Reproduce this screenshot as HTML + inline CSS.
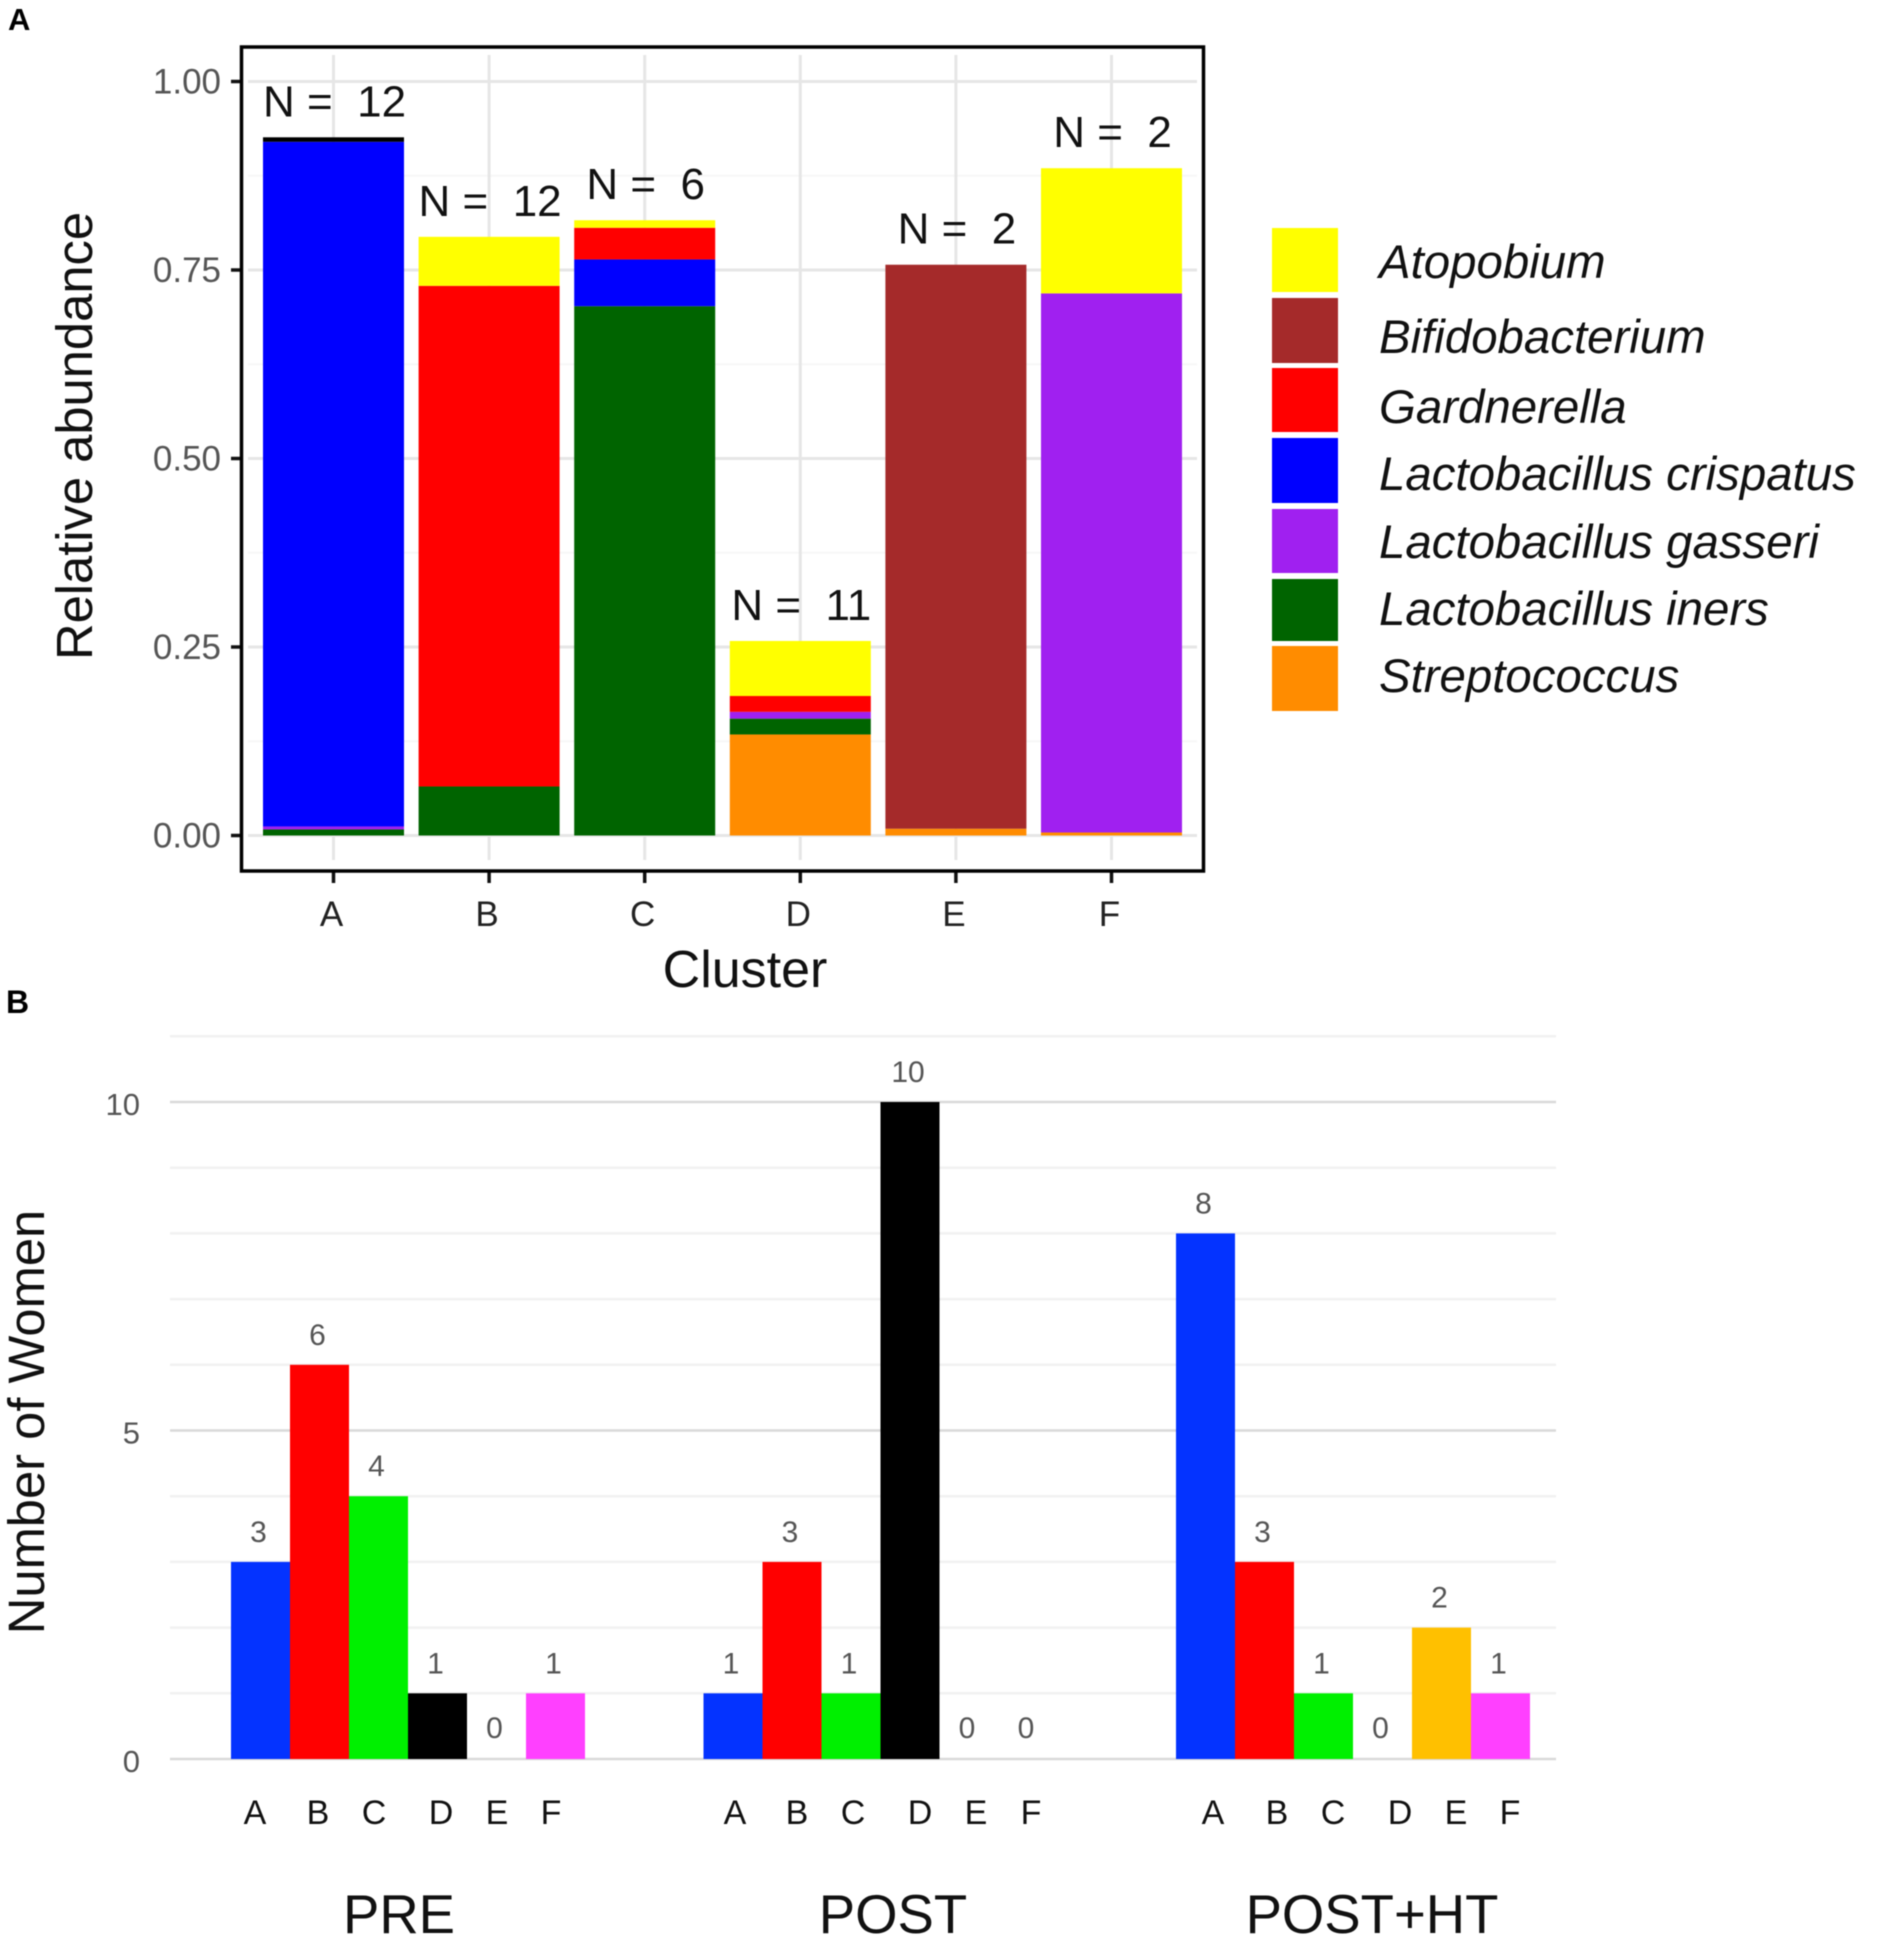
<!DOCTYPE html>
<html lang="en">
<head>
<meta charset="utf-8">
<title>Relative abundance by cluster and number of women per cluster</title>
<style>
html,body{margin:0;padding:0;background:#fff;width:1888px;height:1945px;overflow:hidden}
svg{display:block;filter:blur(0.6px)}
text{font-family:"Liberation Sans",Arial,sans-serif;white-space:pre}
</style>
</head>
<body>
<svg id="figure" xmlns="http://www.w3.org/2000/svg" width="1888" height="1945" viewBox="0 0 1888 1945">
  <rect width="1888" height="1945" fill="#fff"/>
  <text x="8" y="30" font-size="31" font-weight="bold">A</text>
  <text x="6" y="1013" font-size="32" font-weight="bold">B</text>

  <g id="panelA"></g>
  <rect x="241.5" y="47" width="962" height="824" fill="none" stroke="#000" stroke-width="3.5"/>
  <text transform="translate(92 436) rotate(-90)" text-anchor="middle" font-size="50.7" fill="#111">Relative abundance</text>
  <text x="745" y="987" text-anchor="middle" font-size="52" fill="#111">Cluster</text>

  <g>
    <rect x="1272" y="228" width="66" height="64" fill="#ffff00"/>
    <rect x="1272" y="298" width="66" height="65" fill="#a52a2a"/>
    <rect x="1272" y="368" width="66" height="64" fill="#ff0000"/>
    <rect x="1272" y="438" width="66" height="65" fill="#0000ff"/>
    <rect x="1272" y="509" width="66" height="64" fill="#a020f0"/>
    <rect x="1272" y="579" width="66" height="62" fill="#006400"/>
    <rect x="1272" y="646" width="66" height="65" fill="#ff8c00"/>
    <g font-size="47.4" font-style="italic" fill="#111">
      <text x="1379" y="278">Atopobium</text>
      <text x="1379" y="353">Bifidobacterium</text>
      <text x="1379" y="423">Gardnerella</text>
      <text x="1379" y="490">Lactobacillus crispatus</text>
      <text x="1379" y="558">Lactobacillus gasseri</text>
      <text x="1379" y="625">Lactobacillus iners</text>
      <text x="1379" y="692">Streptococcus</text>
    </g>
  </g>

  <g id="panelB"></g>
  <text transform="translate(44 1422) rotate(-90)" text-anchor="middle" font-size="50.7" fill="#111">Number of Women</text>

  <g font-size="34" fill="#111" text-anchor="middle">
    <text x="255" y="1824">A</text>
    <text x="318" y="1824">B</text>
    <text x="374" y="1824">C</text>
    <text x="441" y="1824">D</text>
    <text x="497" y="1824">E</text>
    <text x="551" y="1824">F</text>
    <text x="735" y="1824">A</text>
    <text x="797" y="1824">B</text>
    <text x="853" y="1824">C</text>
    <text x="920" y="1824">D</text>
    <text x="976" y="1824">E</text>
    <text x="1031" y="1824">F</text>
    <text x="1213" y="1824">A</text>
    <text x="1277" y="1824">B</text>
    <text x="1333" y="1824">C</text>
    <text x="1400" y="1824">D</text>
    <text x="1456" y="1824">E</text>
    <text x="1510" y="1824">F</text>
  </g>
  <g font-size="54.5" fill="#111" text-anchor="middle">
    <text x="399" y="1933">PRE</text>
    <text x="893" y="1933">POST</text>
    <text x="1372" y="1933">POST+HT</text>
  </g>
</svg>

<script>
// ---- Panel A data ----
const clusterNames = ['A', 'B', 'C', 'D', 'E', 'F'];
const clusterCounts = [12, 12, 6, 11, 2, 2];
const streptococcus = [0, 0, 0, 0.134, 0.009, 0.004];
const lactobacillusIners = [0.008, 0.065, 0.702, 0.021, 0, 0];
const lactobacillusGasseri = [0.004, 0, 0, 0.009, 0, 0.715];
const lactobacillusCrispatus = [0.908, 0, 0.062, 0, 0, 0];
const gardnerella = [0, 0.664, 0.042, 0.021, 0, 0];
const bifidobacterium = [0, 0, 0, 0, 0.748, 0];
const atopobium = [0, 0.065, 0.010, 0.073, 0, 0.166];
const unlabelled = [0.006, 0, 0, 0, 0, 0];
const abundanceTicks = [0, 0.25, 0.5, 0.75, 1];
const abundanceMinorTicks = [0.125, 0.375, 0.625, 0.875];

// ---- Panel B data ----
const groupNames = ['PRE', 'POST', 'POST+HT'];
const womenPre = [3, 6, 4, 1, 0, 1];
const womenPost = [1, 3, 1, 10, 0, 0];
const womenPostHt = [8, 3, 1, 0, 2, 1];
const womenTicks = [0, 5, 10];
const womenMinorTicks = [1, 2, 3, 4, 6, 7, 8, 9, 11];

const SVG_NS = 'http://www.w3.org/2000/svg';
function make(parent, tag, props, content) {
  const el = document.createElementNS(SVG_NS, tag);
  for (const k in props) el.setAttribute(k, props[k]);
  if (content !== undefined) el.textContent = content;
  parent.appendChild(el);
  return el;
}

// ---- Panel A axes and marks ----
const gA = document.getElementById('panelA');
const abundanceY = v => 835.5 - v * 754;
const clusterX = i => 333.5 + i * 155.6;
const stackBarWidth = 141;

abundanceMinorTicks.forEach(t => {
  const el = make(gA, 'line', {x1: 248, x2: 1197, y1: abundanceY(t), y2: abundanceY(t), stroke: '#f7f7f7', 'stroke-width': 2});
  
  
});
abundanceTicks.forEach(t => {
  const y = abundanceY(t);
  const grid = make(gA, 'line', {x1: 248, x2: 1197, y1: y, y2: y, stroke: '#e6e6e6', 'stroke-width': 3});
  
  
  const tick = make(gA, 'line', {x1: 231, x2: 241, y1: y, y2: y, stroke: '#111', 'stroke-width': 3.5});
  
  
  const label = make(gA, 'text', {x: 221, y: y + 12, 'text-anchor': 'end', 'font-size': 35, fill: '#555'}, t.toFixed(2));
  
  
});
clusterNames.forEach((name, i) => {
  const x = clusterX(i);
  const grid = make(gA, 'line', {x1: x, x2: x, y1: 55, y2: 860, stroke: '#e6e6e6', 'stroke-width': 3});
  
  
  const tick = make(gA, 'line', {x1: x, x2: x, y1: 871, y2: 883, stroke: '#111', 'stroke-width': 3.5});
  
  
  const label = make(gA, 'text', {x: x - 2, y: 926, 'text-anchor': 'middle', 'font-size': 35, fill: '#222'}, name);
  
  
});

const stackLayers = [
  [streptococcus, '#ff8c00', 'streptococcus'],
  [lactobacillusIners, '#006400', 'lactobacillus-iners'],
  [lactobacillusGasseri, '#a020f0', 'lactobacillus-gasseri'],
  [lactobacillusCrispatus, '#0000ff', 'lactobacillus-crispatus'],
  [gardnerella, '#ff0000', 'gardnerella'],
  [bifidobacterium, '#a52a2a', 'bifidobacterium'],
  [atopobium, '#ffff00', 'atopobium'],
  [unlabelled, '#000000', 'unlabelled']
];
clusterNames.forEach((name, i) => {
  let total = 0;
  stackLayers.forEach(layer => {
    const v = layer[0][i];
    if (v <= 0) return;
    const top = abundanceY(total + v);
    const bar = make(gA, 'rect', {x: clusterX(i) - stackBarWidth / 2, y: top, width: stackBarWidth, height: abundanceY(total) - top, fill: layer[1]});
    
    
    total += v;
  });
  const label = make(gA, 'text', {x: clusterX(i) + 1, y: abundanceY(total) - 21, 'text-anchor': 'middle', 'font-size': 44, fill: '#111'}, 'N =  ' + clusterCounts[i]);
  
  
});

// ---- Panel B axes and marks ----
const gB = document.getElementById('panelB');
const womenY = v => 1759 - v * 65.7;
const groupStart = g => 231 + g * 472.5;
const barStep = 59;
const barX = (g, i) => groupStart(g) + i * barStep;
const clusterColors = ['#0433ff', '#ff0000', '#00f000', '#000000', '#ffc000', '#ff40ff'];
const groupSeries = [womenPre, womenPost, womenPostHt];

womenMinorTicks.forEach(t => {
  const el = make(gB, 'line', {x1: 170, x2: 1556, y1: womenY(t), y2: womenY(t), stroke: '#f1f1f1', 'stroke-width': 2.5});
  
  
});
womenTicks.forEach(t => {
  const y = womenY(t);
  const grid = make(gB, 'line', {x1: 170, x2: 1556, y1: y, y2: y, stroke: '#d9d9d9', 'stroke-width': 2.5});
  
  
  const label = make(gB, 'text', {x: 140, y: y + 13, 'text-anchor': 'end', 'font-size': 31, fill: '#555'}, String(t));
  
  
});

groupNames.forEach((group, g) => {
  const values = groupSeries[g];
  values.forEach((v, i) => {
    const x = barX(g, i);
    const top = womenY(v);
    if (v > 0) {
      const bar = make(gB, 'rect', {x: x, y: top, width: barStep, height: womenY(0) - top, fill: clusterColors[i]});
      
      
    }
    const value = make(gB, 'text', {x: x + barStep / 2 - 2, y: top - (v === 0 ? 21 : 20), 'text-anchor': 'middle', 'font-size': 30, fill: '#555'}, String(v));
    
    
  });
});
</script>
</body>
</html>
